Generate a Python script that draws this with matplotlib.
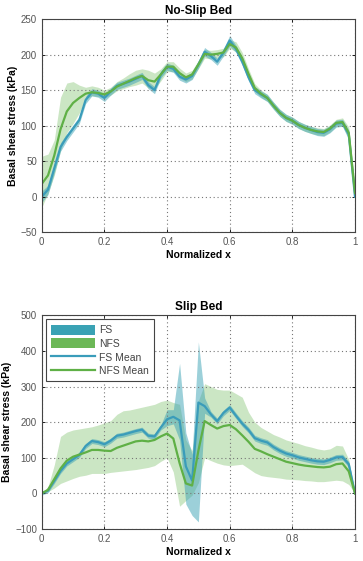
import numpy as np
import matplotlib
matplotlib.use("Agg")
import matplotlib.pyplot as plt
from matplotlib.patches import Patch
from matplotlib.lines import Line2D

plt.rcParams['font.family'] = ['Liberation Sans', 'DejaVu Sans']

# normalized position along the bed
x = np.linspace(0, 1, 51)

# No-slip bed (kPa)
ns_fs_mean = [0, 10, 40, 70, 84, 96, 108, 136, 147, 145, 139, 148, 156, 159, 162,
              166, 170, 157, 150, 172, 183, 180, 169, 165, 170, 186, 204, 198, 190, 203,
              220, 208, 190, 168, 150, 144, 139, 128, 118, 111, 107, 101, 97, 94, 91,
              90, 95, 103, 104, 88, 0]
ns_fs_lo = [-8, 3, 33, 64, 79, 91, 103, 131, 142, 140, 134, 143, 151, 154, 157,
            161, 165, 152, 145, 167, 178, 175, 164, 160, 165, 181, 198, 193, 185, 198,
            212, 203, 185, 163, 145, 139, 134, 123, 113, 106, 102, 96, 92, 89, 86,
            85, 90, 98, 99, 80, -8]
ns_fs_hi = [8, 16, 46, 76, 89, 101, 113, 141, 152, 150, 144, 153, 161, 164, 167,
            171, 175, 162, 155, 177, 188, 185, 174, 170, 175, 191, 210, 203, 195, 208,
            227, 213, 195, 173, 155, 149, 144, 133, 123, 116, 112, 106, 102, 99, 96,
            95, 100, 108, 109, 94, 6]
ns_nfs_mean = [18, 30, 58, 95, 120, 132, 139, 145, 147, 146, 144, 148, 155, 159, 163,
               167, 170, 164, 162, 172, 183, 183, 174, 168, 172, 186, 201, 200, 201, 203,
               215, 210, 195, 173, 153, 145, 139, 128, 118, 111, 107, 101, 97, 94, 92,
               91, 96, 104, 105, 90, 5]
ns_nfs_lo = [-15, 5, 30, 65, 90, 103, 118, 138, 142, 141, 139, 143, 149, 152, 155,
             157, 160, 153, 152, 163, 176, 176, 167, 162, 166, 180, 195, 194, 195, 197,
             209, 204, 189, 167, 148, 140, 134, 123, 113, 106, 102, 96, 92, 89, 87,
             86, 91, 99, 99, 82, -5]
ns_nfs_hi = [57, 60, 80, 140, 160, 162, 157, 154, 156, 154, 150, 154, 162, 167, 173,
             178, 180, 178, 174, 180, 190, 190, 181, 174, 178, 192, 207, 206, 207, 209,
             221, 218, 203, 180, 159, 150, 144, 133, 123, 116, 112, 106, 102, 99, 97,
             96, 101, 109, 111, 98, 15]

# Slip bed (kPa)
s_fs_mean = [0, 8, 35, 63, 84, 96, 108, 133, 147, 144, 138, 148, 162, 165, 170,
             175, 179, 162, 160, 185, 208, 215, 205, 76, 36, 255, 245, 222, 203, 226,
             241, 218, 196, 178, 155, 148, 143, 130, 120, 112, 107, 101, 97, 93, 90,
             89, 94, 101, 102, 82, 0]
s_fs_lo = [-5, 2, 28, 56, 77, 89, 101, 126, 140, 137, 131, 141, 155, 158, 163,
           168, 172, 155, 153, 178, 190, 195, 150, -30, -62, -80, 225, 214, 195, 218,
           233, 210, 188, 170, 147, 140, 135, 122, 112, 104, 99, 93, 89, 85, 82,
           81, 86, 93, 94, 74, -5]
s_fs_hi = [5, 14, 42, 70, 91, 103, 115, 140, 154, 151, 145, 155, 169, 172, 177,
           182, 186, 169, 167, 192, 235, 235, 365, 170, 110, 425, 268, 230, 211, 234,
           249, 226, 204, 186, 163, 156, 151, 138, 128, 120, 115, 109, 105, 101, 98,
           97, 102, 109, 110, 90, 5]
s_nfs_mean = [0, 10, 40, 70, 92, 103, 109, 115, 122, 122, 120, 119, 128, 134, 140,
              146, 148, 146, 150, 160, 168, 154, 85, 28, 22, 120, 203, 192, 182, 189,
              192, 180, 163, 145, 125, 118, 110, 103, 96, 89, 85, 81, 78, 76, 74,
              73, 75, 82, 84, 62, 0]
s_nfs_lo = [0, 5, 15, 28, 35, 42, 48, 51, 56, 56, 56, 59, 61, 63, 65,
            67, 70, 73, 78, 90, 100, 60, -36, -20, -5, 30, 100, 92, 85, 80,
            78, 80, 82, 70, 58, 50, 47, 45, 43, 40, 39, 38, 36, 35, 33,
            33, 35, 37, 35, 25, 0]
s_nfs_hi = [0, 19, 80, 160, 172, 178, 181, 184, 187, 192, 198, 204, 222, 232, 234,
            238, 242, 246, 250, 258, 262, 255, 250, 150, 120, 260, 308, 300, 292, 290,
            290, 280, 270, 228, 200, 185, 175, 165, 158, 150, 145, 140, 134, 130, 125,
            122, 125, 135, 133, 95, 0]

FS_COLOR = '#3aa2b4'
NFS_COLOR = '#6cb857'
FS_LINE = '#3a9cba'
NFS_LINE = '#5fb046'


def draw_panel(ax, title, fs, nfs, ylim, yticks):
    fs_mean, fs_lo, fs_hi = fs
    nfs_mean, nfs_lo, nfs_hi = nfs
    ax.fill_between(x, nfs_lo, nfs_hi, color=NFS_COLOR, alpha=0.35, linewidth=0)
    ax.fill_between(x, fs_lo, fs_hi, color=FS_COLOR, alpha=0.5, linewidth=0)
    ax.plot(x, fs_mean, color=FS_LINE, linewidth=1.6)
    ax.plot(x, nfs_mean, color=NFS_LINE, linewidth=1.6)
    ax.set_xlim(0, 1)
    ax.set_ylim(*ylim)
    ax.set_yticks(yticks)
    ax.set_xticks([0, 0.2, 0.4, 0.6, 0.8, 1])
    ax.set_xticklabels(['0', '0.2', '0.4', '0.6', '0.8', '1'])
    ax.grid(True, linestyle=(0, (1, 2.5)), color='#777777', linewidth=0.8)
    ax.tick_params(direction='in', top=True, right=True, labelsize=7,
                   labelcolor='#555555', length=2, width=0.6)
    for sp in ax.spines.values():
        sp.set_color('#444444')
        sp.set_linewidth(0.8)
    ax.set_title(title, fontsize=8.5, fontweight='bold', pad=4)
    ax.set_xlabel('Normalized x', fontsize=7.5, fontweight='bold', labelpad=2)
    ax.set_ylabel('Basal shear stress (kPa)', fontsize=7.5, fontweight='bold', labelpad=2)


fig = plt.figure(figsize=(3.63, 5.61), dpi=100)
ax1 = fig.add_axes([0.115, 0.586, 0.863, 0.380])
ax2 = fig.add_axes([0.115, 0.057, 0.863, 0.381])

draw_panel(ax1, 'No-Slip Bed', (ns_fs_mean, ns_fs_lo, ns_fs_hi),
           (ns_nfs_mean, ns_nfs_lo, ns_nfs_hi), (-50, 250), range(-50, 251, 50))
draw_panel(ax2, 'Slip Bed', (s_fs_mean, s_fs_lo, s_fs_hi),
           (s_nfs_mean, s_nfs_lo, s_nfs_hi), (-100, 500), range(-100, 501, 100))

handles = [Patch(facecolor=FS_COLOR, edgecolor='none'),
           Patch(facecolor=NFS_COLOR, edgecolor='none'),
           Line2D([], [], color=FS_LINE, linewidth=1.6),
           Line2D([], [], color=NFS_LINE, linewidth=1.6)]
leg = ax2.legend(handles, ['FS', 'NFS', 'FS Mean', 'NFS Mean'], loc='upper left',
                 fontsize=7.5, frameon=True, fancybox=False, handlelength=4.2,
                 handleheight=1.1, labelspacing=0.3, handletextpad=0.4,
                 borderaxespad=0.4, borderpad=0.5, framealpha=1)
leg.get_frame().set_edgecolor('#444444')
leg.get_frame().set_linewidth(0.8)
for t in leg.get_texts():
    t.set_color('#444444')

fig.savefig('out.png', dpi=100)
